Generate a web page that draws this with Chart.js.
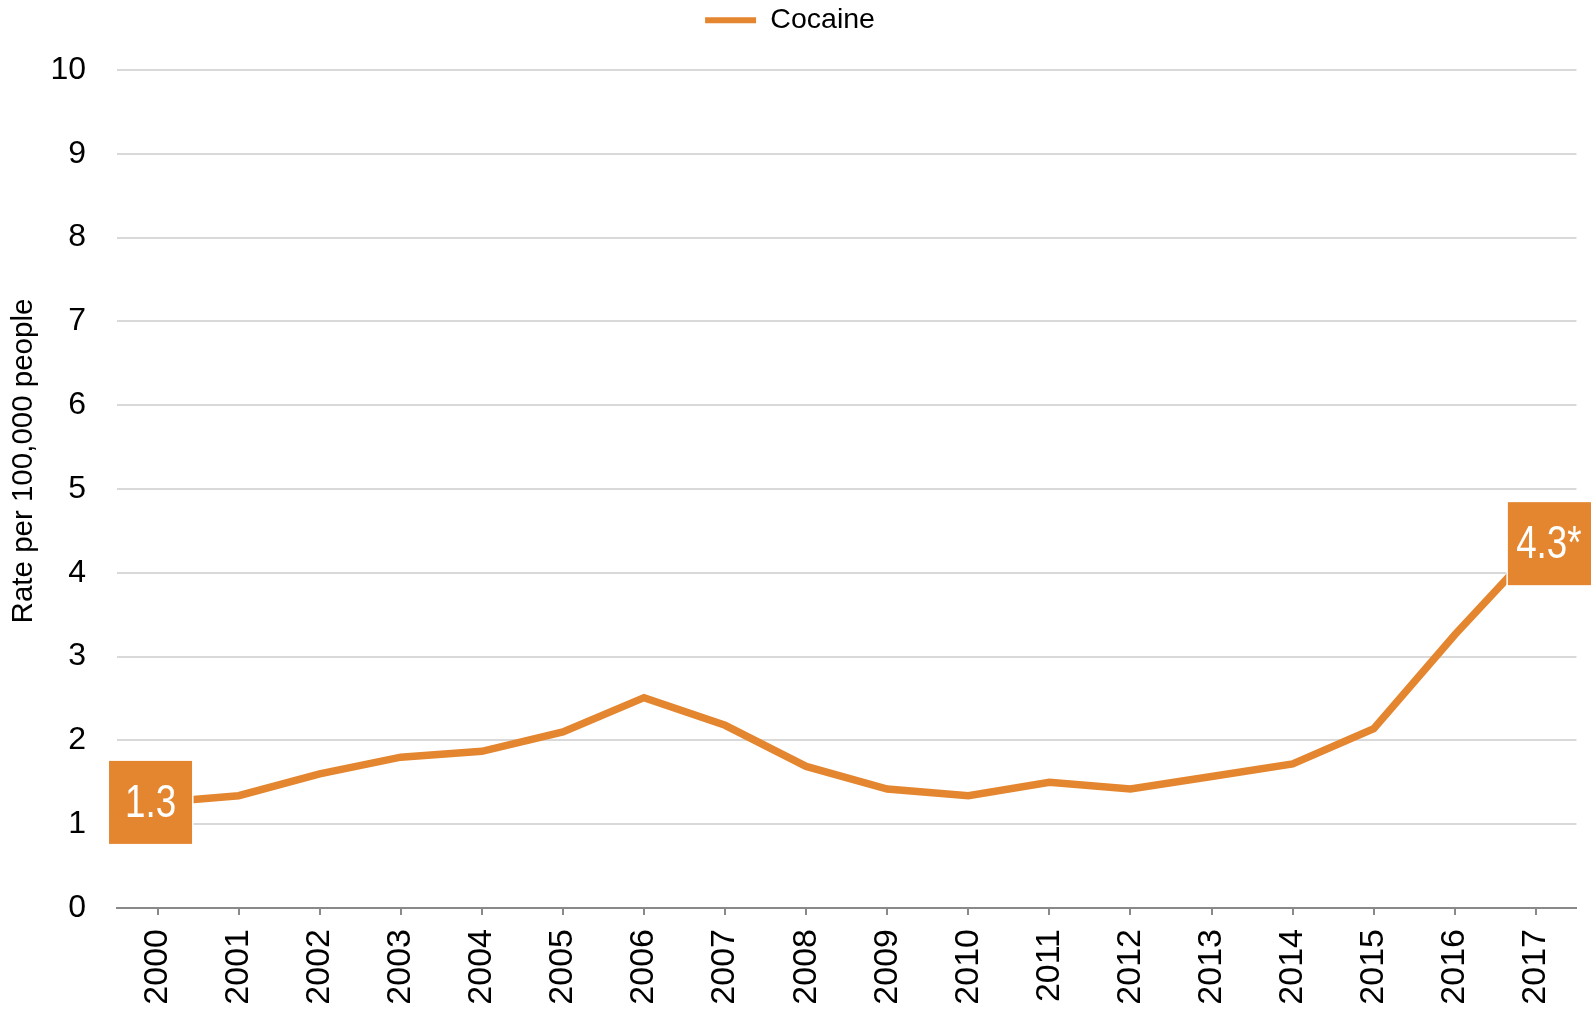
<!DOCTYPE html>
<html>
<head>
<meta charset="utf-8">
<script src="https://cdn.jsdelivr.net/npm/chart.js@4/dist/chart.umd.min.js"></script>
<style>
    html, body { margin: 0; padding: 0; background: #fff; }
    #wrap { width: 1591px; height: 1009px; position: relative; }
</style>
</head>
<body>
<div id="wrap"><canvas id="graficoCocaina"></canvas></div>
<script>
const years = ['2000', '2001', '2002', '2003', '2004', '2005', '2006', '2007', '2008',
    '2009', '2010', '2011', '2012', '2013', '2014', '2015', '2016', '2017'];
const cocaineRates = [1.26, 1.34, 1.60, 1.80, 1.87, 2.10, 2.51, 2.18, 1.69,
    1.42, 1.34, 1.50, 1.42, 1.57, 1.72, 2.14, 3.26, 4.3];
const yTicks = [0, 1, 2, 3, 4, 5, 6, 7, 8, 9, 10];
const calloutIndexes = [0, 17];
const calloutTexts = ['1.3', '4.3*'];

const naranja = '#E4862F';
const fuente = '"Liberation Sans", Arial, sans-serif';

// cajas naranjas con el valor del primer y ultimo año
const calloutPlugin = {
    id: 'callouts',
    afterDatasetsDraw(chart) {
        const ctx = chart.ctx;
        const meta = chart.getDatasetMeta(0);
        calloutIndexes.forEach((idx, i) => {
            const p = meta.data[idx];
            let left, top, w, h, tx;
            if (i === 0) {
                w = 83; h = 83;
                left = p.x - 7 - w / 2; top = p.y - h / 2;
                tx = p.x - 7;
            } else {
                w = 100; h = 83;
                left = p.x - 28; top = p.y - 4 - h / 2;
                tx = p.x + 13;
            }
            ctx.save();
            ctx.fillStyle = naranja;
            ctx.strokeStyle = '#fff';
            ctx.lineWidth = 3;
            ctx.strokeRect(left, top, w, h);
            ctx.fillRect(left, top, w, h);
            // letra angosta: se comprime la fuente normal
            ctx.translate(tx, top + h / 2 + 2);
            ctx.scale(0.8, 1);
            ctx.fillStyle = '#fff';
            ctx.font = '46px ' + fuente;
            ctx.textAlign = 'center';
            ctx.textBaseline = 'middle';
            ctx.fillText(calloutTexts[i], 0, 0);
            ctx.restore();
        });
    }
};

// titulo del eje Y, un poco por encima del centro como en el original
const tituloEjePlugin = {
    id: 'tituloEje',
    afterDraw(chart) {
        const ctx = chart.ctx;
        ctx.save();
        ctx.translate(24, 461);
        ctx.rotate(-Math.PI / 2);
        ctx.font = '29.5px ' + fuente;
        ctx.fillStyle = '#000';
        ctx.textAlign = 'center';
        ctx.textBaseline = 'middle';
        ctx.fillText('Rate per 100,000 people', 0, 0);
        ctx.restore();
    }
};

// alto fijo de la leyenda para que el area del grafico empiece donde corresponde
const alturaLeyendaPlugin = {
    id: 'alturaLeyenda',
    beforeLayout(chart) {
        const legend = chart.legend;
        if (legend && !legend._fitFijo) {
            const fit = legend.fit;
            legend.fit = function () {
                fit.call(this);
                this.height = 70;
            };
            legend._fitFijo = true;
        }
    }
};

const ctxLinea = document.getElementById('graficoCocaina').getContext('2d');

const chartLinea = new Chart(ctxLinea, {
    type: 'line',
    data: {
        labels: years,
        datasets: [{
            label: 'Cocaine',
            data: cocaineRates,
            borderColor: naranja,
            backgroundColor: naranja,
            borderWidth: 7.5,
            pointRadius: 0,
            pointHoverRadius: 0,
            tension: 0,
            borderJoinStyle: 'miter'
        }]
    },
    options: {
        responsive: true,
        maintainAspectRatio: false,
        animation: false,
        layout: { padding: { left: 0, right: 11, top: 0, bottom: 0 } },
        plugins: {
            legend: {
                position: 'top',
                labels: {
                    font: { size: 28.5, family: fuente },
                    color: '#000',
                    boxWidth: 51,
                    boxHeight: 6,
                    padding: 6,
                    generateLabels: (chart) => chart.data.datasets.map((ds, i) => ({
                        text: ds.label,
                        fillStyle: ds.borderColor,
                        strokeStyle: ds.borderColor,
                        lineWidth: 0,
                        hidden: false,
                        datasetIndex: i
                    }))
                }
            },
            tooltip: { enabled: false }
        },
        scales: {
            x: {
                offset: true,
                afterFit: (s) => { s.height = 101; },
                grid: {
                    drawOnChartArea: false,
                    drawTicks: true,
                    tickLength: 7,
                    color: '#898989',
                    lineWidth: 2
                },
                border: { display: true, color: '#898989', width: 2 },
                ticks: {
                    autoSkip: false,
                    minRotation: 90,
                    maxRotation: 90,
                    padding: 14,
                    color: '#000',
                    font: { size: 34, family: fuente }
                }
            },
            y: {
                min: 0,
                max: 10,
                afterFit: (s) => { s.width = 117; },
                afterBuildTicks: (s) => { s.ticks = yTicks.map(v => ({ value: v })); },
                grid: {
                    drawTicks: false,
                    color: '#D9D9D9',
                    lineWidth: 2
                },
                border: { display: false },
                ticks: {
                    padding: 31,
                    color: '#000',
                    font: { size: 32, family: fuente }
                }
            }
        }
    },
    plugins: [calloutPlugin, tituloEjePlugin, alturaLeyendaPlugin]
});
</script>
</body>
</html>
